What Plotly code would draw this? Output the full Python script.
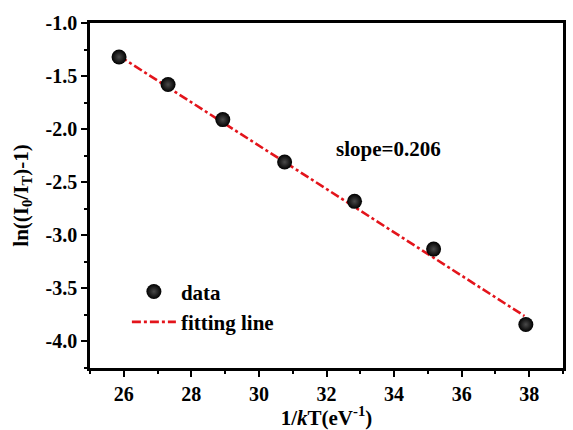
import plotly.graph_objects as go

# Data
x_data = [25.86, 27.31, 28.93, 30.76, 32.83, 35.17, 37.90]
y_data = [-1.32, -1.58, -1.91, -2.31, -2.68, -3.13, -3.84]

# Fitted line (end points)
x_fit = [25.86, 37.86]
y_fit = [-1.31, -3.76]

# Tick labels
x_tickvals = [26, 28, 30, 32, 34, 36, 38]
x_ticktext = ["26", "28", "30", "32", "34", "36", "38"]
y_tickvals = [-4.0, -3.5, -3.0, -2.5, -2.0, -1.5, -1.0]
y_ticktext = ["-4.0", "-3.5", "-3.0", "-2.5", "-2.0", "-1.5", "-1.0"]

slope_text = "slope=0.206"

FONT = "'Liberation Serif', 'Times New Roman', serif"

fig = go.Figure()
fig.add_trace(go.Scatter(
    x=x_fit, y=y_fit, mode="lines", name="fitting line",
    line=dict(color="#e3141b", width=2.6, dash="9px,3px,3px,3px"),
    legendgroup="b", legendrank=2,
))
fig.add_trace(go.Scatter(
    x=x_data, y=y_data, mode="markers", name="data",
    marker=dict(size=15, color="#000000",
                gradient=dict(type="radial", color="#4a4a4a"),
                line=dict(width=0)),
    legendgroup="a", legendrank=1,
))

fig.add_annotation(
    x=33.84, y=-2.19, xref="x", yref="y", text=slope_text, showarrow=False,
    font=dict(family=FONT, size=21, color="black", weight="bold"),
)

axis_common = dict(
    showline=True, linecolor="black", linewidth=2.5, mirror=True,
    ticks="outside", ticklen=6, tickwidth=2, tickcolor="black",
    showgrid=False, zeroline=False,
    tickfont=dict(family=FONT, size=20, color="black", weight="bold"),
)

fig.update_xaxes(
    range=[25.0, 39.0], tickmode="array", tickvals=x_tickvals, ticktext=x_ticktext,
    minor=dict(ticks="outside", ticklen=3, tickwidth=2, tickcolor="black", dtick=1, tick0=25, showgrid=False),
    title=dict(text="1/<i>k</i>T(eV<sup>-1</sup>)", standoff=4,
               font=dict(family=FONT, size=21, color="black", weight="bold")),
    **axis_common,
)
fig.update_yaxes(
    range=[-4.25, -1.0], tickmode="array", tickvals=y_tickvals, ticktext=y_ticktext,
    minor=dict(ticks="outside", ticklen=3, tickwidth=2, tickcolor="black", dtick=0.25, tick0=-4.0, showgrid=False),
    title=dict(text="ln((I<sub>0</sub>/I<sub>T</sub>)-1)", standoff=12,
               font=dict(family=FONT, size=21, color="black", weight="bold")),
    **axis_common,
)

fig.update_layout(
    width=573, height=430,
    margin=dict(l=90, r=7, t=23, b=57),
    paper_bgcolor="white", plot_bgcolor="white",
    showlegend=True,
    legend=dict(
        x=0.078, y=0.28, xanchor="left", yanchor="top",
        bgcolor="rgba(0,0,0,0)", borderwidth=0,
        itemwidth=44, tracegroupgap=0,
        font=dict(family=FONT, size=21, color="black", weight="bold"),
    ),
)

fig.write_html("out.html")
